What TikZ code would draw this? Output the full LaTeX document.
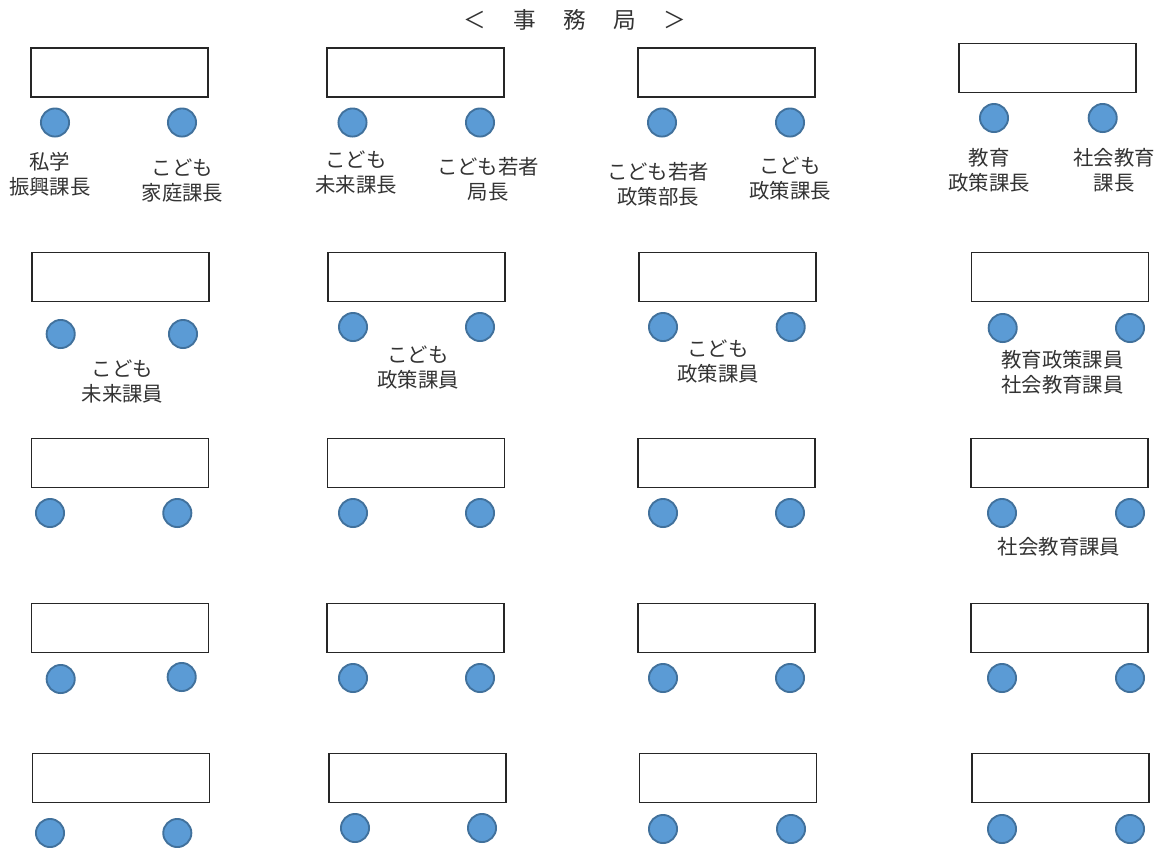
\documentclass[tikz,border=0pt]{standalone}
\usepackage{fontspec}
\setmainfont{Noto Sans CJK JP}
\definecolor{seatfill}{HTML}{5B9BD5}
\definecolor{seatedge}{HTML}{41719C}
\begin{document}
\begin{tikzpicture}[x=0.75pt,y=-0.75pt,
  desk/.style={draw=black!85, line width=0.8pt, fill=white, minimum width=132.75pt, minimum height=36.75pt, inner sep=0pt},
  person/.style={circle, draw=seatedge, fill=seatfill, line width=1.4pt, minimum size=21.1pt, inner sep=0pt},
  lbl/.style={align=center, font=\fontsize{15.3pt}{18.75pt}\selectfont, inner sep=0pt, text=black!80}]
\useasboundingbox (0,0) rectangle (1164,847);

% title
\node[lbl, font=\fontsize{17pt}{20pt}\selectfont] (title) at (575,20) {＜\hspace{20.5pt}事\hspace{20.5pt}務\hspace{20.5pt}局\hspace{20.5pt}＞};

% desks
\foreach \x/\y [count=\i] in {119.5/72.5, 415.5/72.5, 726.5/72.5, 1047.5/68,
  120.5/277, 416.5/277, 727.5/277, 1060/277,
  120/462.8, 416/462.8, 726.5/462.8, 1059.5/462.8,
  120/628, 415.5/628, 726.5/628, 1059.5/628,
  121.3/778, 417.5/778, 728/778, 1060.5/778}
  \node[desk] (d\i) at (\x,\y) {};

% seats
\foreach \x/\y [count=\i] in {55/122.5, 182/122.5, 352.5/122.5, 480/122.5, 662/122.5, 790/122.5, 994/118, 1102.7/118,
  60.7/334, 183/334, 353/327, 480/327, 663/327, 790.7/327, 1002.7/328, 1130/328,
  50/513, 177.3/513, 353/513, 480/513, 663/513, 790/513, 1002/513, 1130/513,
  60.7/679, 181.7/677, 353/678, 480/678, 663/678, 790/678, 1002/678, 1130/678,
  50/833, 177.3/833, 355/828, 482/828, 663/829, 791/829, 1002/829, 1130/829}
  \node[person] (p\i) at (\x,\y) {};

% labels row 1
\node[lbl] (l1) at (50,174.5) {私学\\振興課長};
\node[lbl] (l2) at (182.5,180.5) {こども\\家庭課長};
\node[lbl] (l3) at (356,172.5) {こども\\未来課長};
\node[lbl] (l4) at (488,179.5) {こども若者\\局長};
\node[lbl] (l5) at (658,184.5) {こども若者\\政策部長};
\node[lbl] (l6) at (790,179) {こども\\政策課長};
\node[lbl] (l7) at (989,170.5) {教育\\政策課長};
\node[lbl] (l8) at (1114,170.5) {社会教育\\課長};

% labels row 2
\node[lbl] (l9) at (122.5,381.5) {こども\\未来課員};
\node[lbl] (l10) at (418,367.5) {こども\\政策課員};
\node[lbl] (l11) at (718,361.5) {こども\\政策課員};
\node[lbl] (l12) at (1062.5,372) {教育政策課員\\社会教育課員};

% label row 3
\node[lbl] (l13) at (1059,547) {社会教育課員};
\end{tikzpicture}
\end{document}
